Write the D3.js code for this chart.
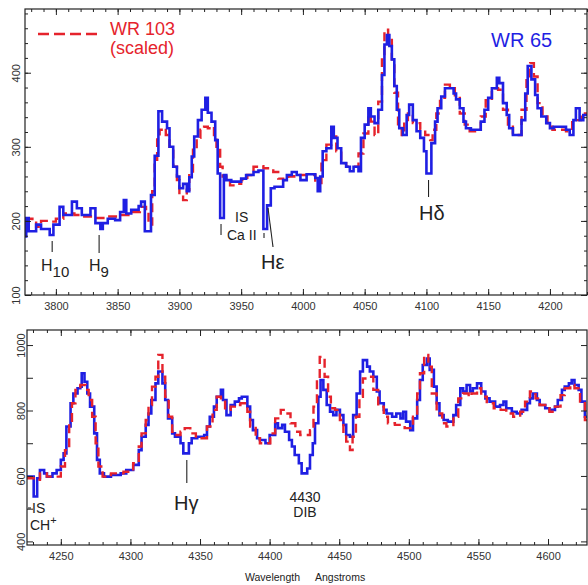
<!DOCTYPE html>
<html>
<head>
<meta charset="utf-8">
<script src="https://cdn.jsdelivr.net/npm/d3@7"></script>
<style>
  body { margin: 0; background: #fff; }
  svg { display: block; font-family: "Liberation Sans", Arial, sans-serif; }
</style>
</head>
<body>
<svg id="root" width="588" height="585"></svg>
<script>
// spectra as step breakpoints: [wavelength (A), flux]
const wr65Top = [[3775,179],[3776,204],[3778,186],[3784,195],[3788,189],[3795,181],[3798,195],[3803,219],[3806,208],[3813,226],[3817,217],[3821,208],[3828,217],[3832,197],[3836,189],[3838,197],[3842,203],[3848,201],[3852,212],[3855,228],[3857,210],[3861,215],[3867,220],[3869,226],[3872,186],[3877,235],[3880,288],[3883,348],[3886,334],[3890,325],[3892,300],[3895,273],[3898,260],[3900,244],[3903,250],[3906,240],[3908,259],[3910,287],[3912,314],[3915,336],[3918,350],[3921,366],[3923,346],[3926,334],[3929,309],[3931,264],[3933,204],[3936,262],[3938,255],[3942,253],[3950,257],[3954,262],[3960,266],[3964,268],[3968,189],[3971,221],[3974,244],[3977,246],[3984,255],[3987,262],[3991,266],[3995,262],[3998,255],[4003,263],[4010,258],[4012,240],[4014,260],[4016,294],[4019,298],[4023,327],[4025,312],[4028,298],[4031,278],[4035,273],[4038,267],[4041,273],[4045,267],[4047,312],[4050,330],[4053,352],[4055,341],[4058,332],[4061,350],[4064,397],[4066,438],[4068,451],[4070,436],[4072,418],[4074,382],[4076,350],[4078,325],[4081,316],[4084,343],[4086,357],[4089,336],[4092,321],[4095,312],[4098,294],[4100,264],[4104,305],[4107,334],[4109,352],[4112,368],[4115,379],[4122,372],[4124,364],[4127,352],[4130,334],[4132,325],[4136,323],[4144,334],[4147,350],[4150,366],[4153,379],[4157,393],[4159,386],[4162,359],[4165,343],[4167,325],[4170,316],[4177,336],[4180,372],[4182,409],[4185,391],[4188,370],[4190,352],[4193,341],[4197,332],[4200,325],[4203,327],[4213,323],[4216,316],[4219,336],[4221,352],[4224,336],[4227,343],[4232,343]];

const wr103Top = [[3775,203],[3781,200],[3784,192],[3788,200],[3795,199],[3800,203],[3806,210],[3815,208],[3822,206],[3832,204],[3840,206],[3850,208],[3860,212],[3868,219],[3873,216],[3875,195],[3878,240],[3880,280],[3882,310],[3884,323],[3887,325],[3889,316],[3892,300],[3895,273],[3898,255],[3900,235],[3903,228],[3906,242],[3908,264],[3911,296],[3914,312],[3917,323],[3920,327],[3923,325],[3926,327],[3928,316],[3930,300],[3933,273],[3935,260],[3938,255],[3941,248],[3945,250],[3950,255],[3955,262],[3960,273],[3964,274],[3968,271],[3972,271],[3976,266],[3980,257],[3984,255],[3988,260],[3993,262],[3998,262],[4010,251],[4015,282],[4019,303],[4023,314],[4027,294],[4031,278],[4035,273],[4045,291],[4049,318],[4053,343],[4055,334],[4058,316],[4061,361],[4064,418],[4066,458],[4069,447],[4072,418],[4074,373],[4077,327],[4080,316],[4082,336],[4085,345],[4089,332],[4095,323],[4099,316],[4103,309],[4105,323],[4108,345],[4111,366],[4115,384],[4119,379],[4123,366],[4127,345],[4131,330],[4135,321],[4144,341],[4148,363],[4153,379],[4158,377],[4162,350],[4166,330],[4170,316],[4177,350],[4181,390],[4184,413],[4187,395],[4190,359],[4194,341],[4198,327],[4202,323],[4213,321],[4218,336],[4225,345],[4232,345]];

const wr65Bottom = [[4225,598],[4230.5,537],[4233,593],[4235,618],[4238,608],[4240,598],[4244,608],[4247,618],[4250,649],[4252,669],[4254,751],[4257,822],[4259,852],[4262,868],[4264,873],[4265,914],[4267,888],[4269,852],[4271,812],[4274,730],[4276,649],[4278,608],[4281,598],[4286,603],[4293,608],[4297,618],[4302,634],[4306,679],[4308,720],[4311,756],[4313,791],[4315,832],[4318,883],[4320,919],[4323,883],[4325,832],[4327,776],[4330,730],[4332,720],[4336,700],[4338,669],[4342,700],[4344,715],[4348,720],[4353,725],[4355,751],[4357,781],[4360,812],[4362,842],[4365,863],[4366.5,832],[4369,786],[4372,817],[4375,827],[4378,837],[4380,842],[4384,812],[4386,771],[4388,740],[4391,715],[4393,710],[4397,700],[4400,725],[4404,761],[4406,746],[4409,756],[4411,735],[4414,710],[4416,690],[4418,664],[4421,639],[4423,608],[4427,623],[4429,664],[4431,700],[4432.6,761],[4435,842],[4436.6,893],[4438.6,863],[4441,817],[4443.4,796],[4445.7,786],[4448,802],[4450.5,786],[4453,756],[4455,725],[4457.7,720],[4460,786],[4462.5,852],[4465,919],[4467,954],[4470,934],[4472,919],[4474.5,903],[4477,858],[4479,822],[4482,802],[4484,791],[4488,781],[4491,791],[4494,776],[4496,796],[4498,766],[4501,740],[4503,776],[4506,832],[4508,893],[4510,939],[4513,959],[4515,924],[4518,873],[4520,822],[4522,786],[4525,771],[4528,766],[4532,786],[4534,817],[4537,868],[4539,858],[4541.5,878],[4544,858],[4546,868],[4549,883],[4552,858],[4555,837],[4558,827],[4562,812],[4565.5,817],[4568,827],[4570,807],[4574,796],[4577.5,791],[4581,802],[4585,822],[4587,837],[4589,852],[4592,832],[4594,817],[4598,807],[4601,802],[4605,812],[4607,832],[4610,863],[4612,873],[4615,883],[4617,893],[4619,878],[4622,863],[4624,827],[4626.5,781],[4630,781]];

const wr103Bottom = [[4225,593],[4230.5,588],[4235,608],[4240,598],[4250,629],[4253,679],[4256,761],[4258,822],[4260.5,863],[4264,878],[4268,863],[4270,832],[4272.5,781],[4275,700],[4277,629],[4280,598],[4286,608],[4295,613],[4302,639],[4306,690],[4308,730],[4311,771],[4313,817],[4315.5,873],[4318,903],[4320,970],[4323,903],[4325,842],[4327.5,781],[4330,735],[4332,725],[4336,735],[4339,746],[4343,730],[4347,715],[4355,751],[4359,802],[4362,842],[4365,837],[4368,802],[4372,812],[4375,817],[4379,822],[4384,796],[4386,751],[4390,715],[4393,700],[4400.5,730],[4404,776],[4408,802],[4411,791],[4415,761],[4418.5,735],[4422,725],[4429,740],[4431.5,812],[4434,893],[4436,964],[4439.5,903],[4442,842],[4444,807],[4447,802],[4450.5,771],[4453,730],[4455,705],[4457.7,679],[4459.6,720],[4462,781],[4464.5,842],[4467,898],[4471,903],[4474.5,863],[4478,812],[4482,781],[4485,761],[4490,756],[4497,746],[4503,781],[4506,852],[4508,914],[4511,970],[4514,934],[4516.5,852],[4520,791],[4524,761],[4527,751],[4532,781],[4535.5,837],[4539,852],[4543,842],[4545,852],[4549,868],[4552,842],[4556,822],[4561,807],[4566,802],[4570,791],[4575,781],[4580,796],[4583.5,827],[4587,858],[4591,837],[4594,817],[4598,807],[4601,796],[4605,812],[4609,847],[4612,868],[4616,878],[4619,868],[4623,827],[4626.5,771],[4630,771]];

// axis ticks / labels
const topXMajor = d3.range(3800, 4201, 50);
const topXMinor = d3.range(3780, 4231, 10);
const topYMajor = [100, 200, 300, 400];
const topYMinor = d3.range(100, 481, 20);
const botXMajor = d3.range(4250, 4601, 50);
const botXMinor = d3.range(4230, 4621, 10);
const botYTicks = d3.range(400, 1001, 100);
const botYLabels = [400, 600, 800, 1000];

const blue = "#1f1fe3", red = "#e5232c", ink = "#222";
const svg = d3.select("#root");

function drawPanel(p) {
  let x = d3.scaleLinear().domain(p.xDomain).range([p.left, p.right]);
  let y = d3.scaleLinear().domain(p.yDomain).range([p.bottom, p.top]);

  svg.append("clipPath").attr("id", p.id + "clip")
    .append("rect")
    .attr("x", p.left).attr("y", p.top)
    .attr("width", p.right - p.left).attr("height", p.bottom - p.top);

  let line = d3.line()
    .x(d => x(d[0]))
    .y(d => y(d[1]))
    .curve(d3.curveStepAfter);

  let g = svg.append("g").attr("clip-path", "url(#" + p.id + "clip)");

  let series = [
    { data: p.red, color: red, dash: "9,5", w: 2.4 },
    { data: p.blue, color: blue, dash: null, w: 2.6 }
  ];
  if (p.redOnTop) series.reverse();

  for (let s of series) {
    g.append("path")
      .attr("d", line(s.data))
      .attr("fill", "none")
      .attr("stroke", s.color)
      .attr("stroke-width", s.w)
      .attr("stroke-dasharray", s.dash)
      .attr("stroke-linejoin", "miter");
  }

  // axes: ticks point inward on all sides
  let axes = svg.append("g");

  let fmt = p.yLabels ? (d => p.yLabels.includes(d) ? d : "") : (d => d);

  axes.append("g").attr("transform", `translate(0,${p.bottom})`)
    .call(d3.axisBottom(x).tickValues(p.xMinor).tickSize(-3).tickFormat(""));
  axes.append("g").attr("transform", `translate(0,${p.bottom})`)
    .call(d3.axisBottom(x).tickValues(p.xMajor).tickSize(-6).tickPadding(7).tickFormat(d3.format("d")));
  axes.append("g").attr("transform", `translate(0,${p.top})`)
    .call(d3.axisTop(x).tickValues(p.xMinor).tickSize(-3).tickFormat(""));
  axes.append("g").attr("transform", `translate(0,${p.top})`)
    .call(d3.axisTop(x).tickValues(p.xMajor).tickSize(-6).tickFormat(""));

  if (p.yMinor) {
    axes.append("g").attr("transform", `translate(${p.left},0)`)
      .call(d3.axisLeft(y).tickValues(p.yMinor).tickSize(-3).tickFormat(""));
    axes.append("g").attr("transform", `translate(${p.right},0)`)
      .call(d3.axisRight(y).tickValues(p.yMinor).tickSize(-3).tickFormat(""));
  }
  axes.append("g").attr("transform", `translate(${p.left},0)`)
    .attr("class", "yleft")
    .call(d3.axisLeft(y).tickValues(p.yMajor).tickSize(-6).tickFormat(fmt));
  axes.append("g").attr("transform", `translate(${p.right},0)`)
    .call(d3.axisRight(y).tickValues(p.yMajor).tickSize(-6).tickFormat(""));

  axes.selectAll(".domain").remove();
  axes.selectAll("line").attr("stroke", ink);
  axes.selectAll("text")
    .attr("fill", "#333")
    .style("font-family", "'Liberation Sans', Arial, sans-serif")
    .style("font-size", "11px");

  axes.select(".yleft").selectAll("text")
    .attr("x", 0).attr("dy", 0)
    .attr("text-anchor", "middle")
    .attr("transform", `translate(${-p.yLabelGap},0) rotate(-90)`);

  axes.append("rect")
    .attr("x", p.left).attr("y", p.top)
    .attr("width", p.right - p.left).attr("height", p.bottom - p.top)
    .attr("fill", "none").attr("stroke", ink).attr("stroke-width", 1.2);

  return { x, y };
}

let topP = drawPanel({
  id: "top", left: 25, right: 587, top: 9, bottom: 295,
  xDomain: [3775, 4230], yDomain: [100, 486],
  xMajor: topXMajor, xMinor: topXMinor, yMajor: topYMajor, yMinor: topYMinor,
  yLabelGap: 5, red: wr103Top, blue: wr65Top, redOnTop: false
});

let botP = drawPanel({
  id: "bot", left: 27, right: 587, top: 330, bottom: 545,
  xDomain: [4225.7, 4628], yDomain: [389, 1046],
  xMajor: botXMajor, xMinor: botXMinor, yMajor: botYTicks, yLabels: botYLabels,
  yLabelGap: 2, red: wr103Bottom, blue: wr65Bottom, redOnTop: true
});

// legend
svg.append("line")
  .attr("x1", 38).attr("x2", 97).attr("y1", 34).attr("y2", 34)
  .attr("stroke", red).attr("stroke-width", 2.4).attr("stroke-dasharray", "11,5");
svg.append("text").attr("x", 110).attr("y", 35)
  .attr("fill", red).style("font-size", "18px").text("WR 103");
svg.append("text").attr("x", 110).attr("y", 54)
  .attr("fill", red).style("font-size", "18px").text("(scaled)");
svg.append("text").attr("x", 491).attr("y", 47)
  .attr("fill", blue).style("font-size", "20px").text("WR 65");

// line identifications
let ann = svg.append("g").attr("fill", ink);
function mark(x1, y1, x2, y2) {
  ann.append("line")
    .attr("x1", x1).attr("y1", y1).attr("x2", x2).attr("y2", y2)
    .attr("stroke", ink).attr("stroke-width", 1.1);
}
function label(x, y, main, sub, size, subSize, sup) {
  let t = ann.append("text").attr("x", x).attr("y", y).style("font-size", size + "px");
  t.append("tspan").text(main);
  if (sub) t.append("tspan").attr("dy", 6).style("font-size", subSize + "px").text(sub);
  if (sup) t.append("tspan").attr("dy", -6).style("font-size", subSize + "px").text(sup);
}

let tx = topP.x, bx = botP.x;
mark(tx(3797), 241, tx(3797), 252);
label(41, 271, "H", "10", 16, 15);
mark(tx(3835), 235, tx(3835), 253);
label(89, 271, "H", "9", 16, 15);
mark(tx(3933.7), 224, tx(3933.7), 235);
mark(tx(3968.5), 233, tx(3968.5), 238);
label(235, 222, "IS", null, 14);
label(227, 240, "Ca II", null, 14);
mark(268, 208, 273, 247);
label(261, 269, "H\u03b5", null, 20);
mark(tx(4101.7), 180, tx(4101.7), 197);
label(419, 220, "H\u03b4", null, 20);

mark(28, 508, 31, 508);
label(32, 513, "IS", null, 14);
label(30, 530, "CH", null, 14, 11, "+");
mark(bx(4340.5), 460, bx(4340.5), 483);
label(174, 510, "H\u03b3", null, 20);
ann.append("text").attr("x", 305).attr("y", 502).attr("text-anchor", "middle")
  .style("font-size", "14px").text("4430");
ann.append("text").attr("x", 305).attr("y", 517).attr("text-anchor", "middle")
  .style("font-size", "14px").text("DIB");

// x-axis title
svg.append("text").attr("x", 245).attr("y", 581).attr("fill", ink)
  .style("font-size", "10.5px").text("Wavelength");
svg.append("text").attr("x", 315).attr("y", 581).attr("fill", ink)
  .style("font-size", "10.5px").text("Angstroms");
</script>
</body>
</html>
